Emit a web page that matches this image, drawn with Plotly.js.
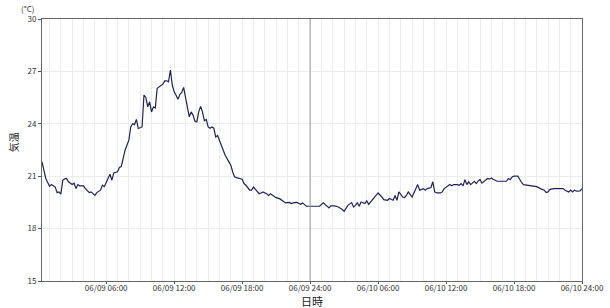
<!DOCTYPE html>
<html>
<head>
<meta charset="utf-8">
<script src="https://cdn.plot.ly/plotly-3.0.1.min.js"></script>
<style>html,body{margin:0;padding:0;background:#fff}#chart{width:610px;height:308px}</style>
</head>
<body>
<div id="chart"></div>
<script>
// minutes since 06/09 00:00
const minutes = [20,40,60,70,90,100,110,120,130,140,150,160,180,190,200,210,220,240,250,270,280,300,310,330,340,350,360,380,390,400,420,430,440,450,460,480,490,500,510,520,530,550,560,570,580,590,600,610,620,630,640,660,670,680,690,700,710,720,730,740,750,760,770,780,790,800,810,820,830,840,850,860,870,880,890,900,910,920,930,940,950,960,970,990,1010,1020,1030,1040,1050,1070,1080,1090,1100,1120,1130,1140,1160,1170,1180,1190,1210,1220,1230,1250,1260,1280,1300,1310,1330,1340,1350,1370,1390,1400,1420,1440,1490,1510,1520,1540,1550,1570,1590,1600,1610,1620,1630,1640,1660,1670,1680,1690,1700,1710,1730,1740,1750,1760,1780,1790,1800,1820,1830,1850,1860,1880,1890,1900,1910,1930,1940,1950,1960,1980,1990,2000,2010,2020,2040,2050,2060,2080,2090,2100,2110,2130,2140,2150,2160,2180,2190,2200,2220,2230,2240,2250,2260,2270,2280,2290,2310,2320,2330,2340,2350,2360,2380,2390,2400,2410,2430,2450,2470,2480,2490,2500,2510,2520,2540,2550,2560,2570,2590,2610,2620,2640,2660,2680,2690,2700,2710,2730,2770,2780,2790,2810,2820,2830,2840,2850,2870,2880];
const temperature = [21.82,20.87,20.42,20.52,20.38,20.06,20.1,19.97,20.77,20.85,20.87,20.68,20.52,20.6,20.29,20.52,20.45,20.45,20.29,20.06,20.1,19.9,20.06,20.2,20.48,20.4,20.64,21.11,20.77,21.19,21.25,21.5,21.55,22.1,22.49,23.06,23.82,24.0,23.95,24.25,23.73,23.82,25.64,25.51,24.97,25.26,24.68,24.97,24.9,26.03,26.12,26.27,26.46,26.46,26.4,27.08,26.22,25.83,25.64,25.4,25.68,25.8,26.08,25.45,25.07,24.4,24.68,24.5,24.15,24.11,24.68,25.0,24.68,24.17,24.25,23.82,23.75,23.82,23.75,23.25,23.33,23.06,22.68,22.2,21.82,21.63,21.24,20.96,20.92,20.87,20.83,20.58,20.48,20.2,20.2,20.38,20.1,20.0,20.04,20.1,20.0,19.89,20.0,19.81,19.77,19.7,19.52,19.47,19.5,19.43,19.47,19.5,19.39,19.47,19.28,19.28,19.28,19.47,19.39,19.18,19.3,19.3,19.24,19.18,19.09,18.99,19.13,19.33,19.49,19.24,19.33,19.47,19.28,19.52,19.43,19.59,19.39,19.52,19.72,19.9,20.04,19.81,19.66,19.62,19.72,19.62,19.9,19.62,20.1,19.81,19.78,19.9,20.1,19.81,20.04,20.23,20.52,20.2,20.29,20.2,20.29,20.35,20.68,20.1,20.04,20.04,20.1,20.29,20.38,20.52,20.45,20.52,20.52,20.48,20.58,20.45,20.8,20.52,20.68,20.52,20.71,20.58,20.73,20.8,20.6,20.71,20.87,20.83,20.9,20.83,20.71,20.71,20.71,20.71,20.87,20.8,20.96,21.0,21.0,20.8,20.64,20.52,20.48,20.42,20.42,20.4,20.29,20.2,20.06,20.1,20.25,20.29,20.29,20.29,20.2,20.1,20.2,20.1,20.2,20.14,20.16,20.29];
const xTickVals = [360,720,1080,1440,1800,2160,2520,2880];
const xTickText = ["06/09 06:00","06/09 12:00","06/09 18:00","06/09 24:00","06/10 06:00","06/10 12:00","06/10 18:00","06/10 24:00"];
const yTickVals = [15,18,21,24,27,30];
const dayBoundary = 1440;

const font = "'Noto Sans CJK JP', 'Noto Sans', sans-serif";
const trace = {
  x: minutes, y: temperature, type: 'scatter', mode: 'lines',
  line: {color: '#22225a', width: 1.2}, hoverinfo: 'skip'
};
const layout = {
  width: 610, height: 308,
  margin: {l: 42, r: 28, t: 19, b: 27},
  paper_bgcolor: '#fff', plot_bgcolor: '#fff',
  showlegend: false,
  font: {family: font, size: 8, color: '#333'},
  xaxis: {
    range: [minutes[0], 2880], tickmode: 'array', tickvals: xTickVals, ticktext: xTickText,
    showgrid: true, gridcolor: '#ececec', gridwidth: 1,
    minor: {tickmode: 'linear', tick0: 0, dtick: 60, showgrid: true, gridcolor: '#ececec', gridwidth: 1},
    ticks: 'outside', ticklen: 2, tickcolor: '#555', ticklabelstandoff: -3,
    showline: true, linecolor: '#666', linewidth: 1, mirror: true,
    zeroline: false, automargin: false,
    tickfont: {family: font, size: 8, color: '#333'}
  },
  yaxis: {
    range: [15, 30], tickmode: 'array', tickvals: yTickVals,
    showgrid: true, gridcolor: '#ececec', gridwidth: 1,
    ticks: 'outside', ticklen: 3, tickcolor: '#555',
    showline: true, linecolor: '#666', linewidth: 1, mirror: true,
    zeroline: false, automargin: false,
    tickfont: {family: font, size: 8, color: '#333'}
  },
  shapes: [{type: 'line', xref: 'x', yref: 'paper', x0: dayBoundary, x1: dayBoundary, y0: 0, y1: 1,
            line: {color: '#999', width: 1}}],
  annotations: [
    {text: '(°C)', xref: 'paper', yref: 'paper', x: 0, y: 1, xanchor: 'right', yanchor: 'bottom',
     xshift: -6, yshift: 3, showarrow: false, font: {family: font, size: 8, color: '#333'}},
    {text: '日時', xref: 'paper', yref: 'paper', x: 0.5, y: -0.077, xanchor: 'center', yanchor: 'middle',
     showarrow: false, font: {family: font, size: 11, color: '#222'}},
    {text: '気温', xref: 'paper', yref: 'paper', x: 0, y: 0.53, xanchor: 'center', yanchor: 'middle',
     xshift: -29, textangle: -90, showarrow: false, font: {family: font, size: 10, color: '#222'}}
  ]
};
Plotly.newPlot('chart', [trace], layout, {displayModeBar: false, staticPlot: true});
</script>
</body>
</html>
